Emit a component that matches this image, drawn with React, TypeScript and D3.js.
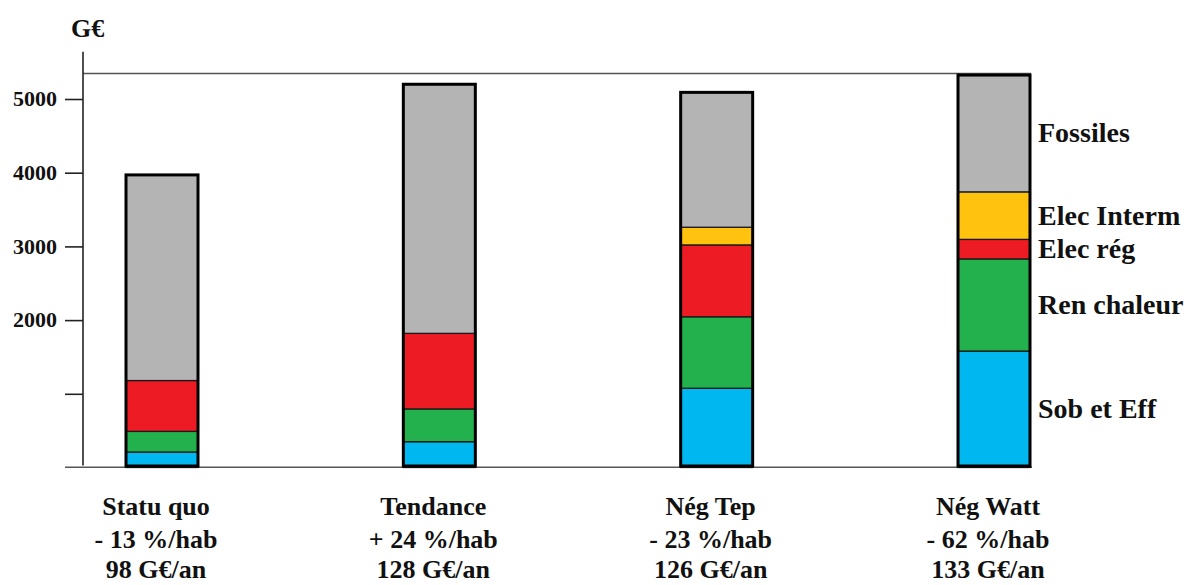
import React, { useEffect, useRef } from "react";
import * as d3 from "d3";

// ---- data ----
const categories = ["Statu quo", "Tendance", "Nég Tep", "Nég Watt"];
const changeLabels = ["- 13 %/hab", "+ 24 %/hab", "- 23 %/hab", "- 62 %/hab"];
const costLabels = ["98 G€/an", "128 G€/an", "126 G€/an", "133 G€/an"];
const seriesNames = ["Sob et Eff", "Ren chaleur", "Elec rég", "Elec Interm", "Fossiles"];
const sobEff = [210, 350, 1075, 1580];
const renChaleur = [280, 445, 970, 1250];
const elecReg = [690, 1025, 975, 265];
const elecInterm = [0, 0, 240, 645];
const fossiles = [2790, 3380, 1830, 1585];
const tickValues = [1000, 2000, 3000, 4000, 5000];
const unitLabel = "G€";
const axisTopValue = 5640;

const seriesColors = ["#00b7ef", "#22b14c", "#ed1c24", "#ffc20e", "#b4b4b4"];
const FONT = "'Liberation Serif', 'Times New Roman', serif";

const W = 1188;
const H = 585;

export default function App() {
  const axisRef = useRef<SVGGElement>(null);

  const rows = categories.map((c, i) => ({
    cat: c,
    "Sob et Eff": sobEff[i],
    "Ren chaleur": renChaleur[i],
    "Elec rég": elecReg[i],
    "Elec Interm": elecInterm[i],
    Fossiles: fossiles[i],
  }));
  const stacked = d3.stack<any>().keys(seriesNames)(rows);
  const totals = rows.map((r) => seriesNames.reduce((s, k) => s + (r as any)[k], 0));

  const x = d3.scalePoint<string>().domain(categories).range([162, 994]);
  const y = d3.scaleLinear().domain([0, 5000]).range([467.5, 99]);
  const barW = 72;
  const axisX = 83;

  useEffect(() => {
    if (!axisRef.current) return;
    const g = d3.select(axisRef.current);
    g.selectAll("*").remove();
    g.call(
      d3
        .axisLeft(y)
        .tickValues(tickValues)
        .tickSizeInner(18)
        .tickSizeOuter(0)
        .tickPadding(8)
        .tickFormat((d: any) => (d === 1000 ? "" : String(d)))
    );
    g.select(".domain").remove();
    g.selectAll(".tick line").attr("stroke", "#222").attr("stroke-width", 1.6);
    g.selectAll(".tick text")
      .attr("font-family", FONT)
      .attr("font-weight", "bold")
      .attr("font-size", 22)
      .attr("fill", "#111")
      .attr("dy", "0.3em");
  }, []);

  const last = categories[categories.length - 1];
  const lastIdx = categories.length - 1;
  const maxTotal = d3.max(totals) as number;

  return (
    <div style={{ position: "absolute", left: 0, top: 0 }}>
      <svg width={W} height={H} style={{ display: "block", background: "#fff" }}>
        {/* unit */}
        <text
          x={axisX - 12}
          y={37}
          fontFamily={FONT}
          fontWeight="bold"
          fontSize={26}
          fill="#111"
        >
          {unitLabel}
        </text>

        {/* top frame line */}
        <line
          x1={axisX}
          x2={(x(last) as number) + barW / 2 + 1}
          y1={y(maxTotal) - 1.5}
          y2={y(maxTotal) - 1.5}
          stroke="#555"
          strokeWidth={1.6}
        />

        {/* baseline */}
        <line
          x1={65}
          x2={(x(last) as number) + barW / 2 + 2}
          y1={y(0) - 0.3}
          y2={y(0) - 0.3}
          stroke="#555"
          strokeWidth={1.6}
        />

        {/* y axis line */}
        <line
          x1={axisX}
          x2={axisX}
          y1={y(0) - 2}
          y2={y(axisTopValue)}
          stroke="#222"
          strokeWidth={1.6}
        />
        <g ref={axisRef} transform={`translate(${axisX},0)`} />

        {/* bars */}
        {stacked.map((s, si) => (
          <g key={s.key}>
            {s.map((d, i) => {
              const h = y(d[0]) - y(d[1]);
              if (h <= 0) return null;
              return (
                <rect
                  key={i}
                  x={(x(categories[i]) as number) - barW / 2}
                  y={y(d[1])}
                  width={barW}
                  height={h}
                  fill={seriesColors[si]}
                  stroke="#1a1a1a"
                  strokeWidth={1.3}
                />
              );
            })}
          </g>
        ))}
        {categories.map((c, i) => (
          <rect
            key={c}
            x={(x(c) as number) - barW / 2}
            y={y(totals[i])}
            width={barW}
            height={y(0) - y(totals[i]) - 1.5}
            fill="none"
            stroke="#000"
            strokeWidth={3}
          />
        ))}

        {/* right-side series labels, aligned with last bar */}
        {stacked.map((s) => {
          const d = s[lastIdx];
          const mid = (y(d[0]) + y(d[1])) / 2;
          return (
            <text
              key={s.key}
              x={(x(last) as number) + barW / 2 + 8}
              y={mid + 9}
              fontFamily={FONT}
              fontWeight="bold"
              fontSize={28}
              fill="#111"
            >
              {s.key}
            </text>
          );
        })}

        {/* bottom category labels */}
        {categories.map((c, i) => (
          <g key={c} fontFamily={FONT} fontWeight="bold" fontSize={26} fill="#111" textAnchor="middle">
            <text x={(x(c) as number) - 6} y={515}>
              {c}
            </text>
            <text x={(x(c) as number) - 6} y={548}>
              {changeLabels[i]}
            </text>
            <text x={(x(c) as number) - 6} y={578}>
              {costLabels[i]}
            </text>
          </g>
        ))}
      </svg>
    </div>
  );
}
